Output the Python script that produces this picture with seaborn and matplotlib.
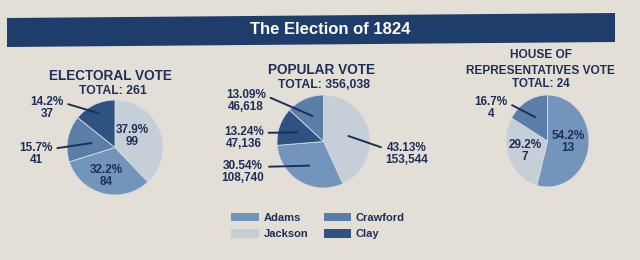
import numpy as np
import pandas as pd
import matplotlib
matplotlib.use('Agg')
import matplotlib.pyplot as plt
from matplotlib.patches import Polygon, Patch
import seaborn as sns

# vote data
candidates = ['Adams', 'Jackson', 'Crawford', 'Clay']
electoral_names = ['Jackson', 'Adams', 'Crawford', 'Clay']
electoral_votes = [99, 84, 41, 37]
popular_names = ['Jackson', 'Adams', 'Clay', 'Crawford']
popular_votes = [153544, 108740, 47136, 46618]
house_names = ['Adams', 'Jackson', 'Crawford']
house_votes = [13, 7, 4]

sns.set_theme(style='white')
plt.rcParams['font.family'] = ['Liberation Sans', 'DejaVu Sans']

#colours for each candidate
colours_dict = {'Adams': '#7495bb', 'Jackson': '#c6ced8',
                'Crawford': '#5a7ea8', 'Clay': '#2e5383'}
navy = '#1e2f57'
paper = '#e3dfd7'

fig = plt.figure(figsize=(6.4, 2.6), dpi=100)
fig.patch.set_facecolor(paper)

#background axes in pixel coordinates for text and banner
bg = fig.add_axes([0, 0, 1, 1])
bg.set_xlim(0, 640)
bg.set_ylim(260, 0)
bg.axis('off')
bg.add_patch(Polygon([(7, 18), (615, 13), (615, 42), (7, 47)], closed=True,
                     facecolor='#1f3d6b', edgecolor='none'))
bg.text(330, 29, 'The Election of 1824', color='white', fontsize=12,
        fontweight='bold', ha='center', va='center')


def pie_block(names, votes, decimals, box, titles, labels):
    x0, x1, y0, y1 = box
    ax = fig.add_axes([x0 / 640, 1 - y1 / 260, (x1 - x0) / 640, (y1 - y0) / 260])
    df = pd.DataFrame({'name': names, 'votes': votes})
    df['pct'] = df['votes'] / df['votes'].sum() * 100
    wedges, _ = ax.pie(df['votes'], colors=[colours_dict[n] for n in df['name']],
                       startangle=90, counterclock=False,
                       wedgeprops=dict(edgecolor='#d8dce2', linewidth=0.6))
    ax.set_aspect('auto')
    ax.set_xlim(-1, 1)
    ax.set_ylim(-1, 1)
    ax.axis('off')
    cx = (x0 + x1) / 2
    for ty, txt, fs in titles:
        bg.text(cx + txt[1], ty, txt[0], color=navy, fontsize=fs,
                fontweight='bold', ha='center', va='center')
    for (i, row), (tx, ty, side, r) in zip(df.iterrows(), labels):
        lab = f"{row['pct']:.{decimals}f}%\n{row['votes']:,}"
        w = wedges[i]
        ang = np.deg2rad((w.theta1 + w.theta2) / 2)
        if side == 'in':
            ax.text(tx, ty, lab, transform=bg.transData, color=navy,
                    fontsize=8.5, fontweight='bold', ha='center', va='center',
                    linespacing=0.95)
        else:
            rel = (1, 0.72) if side == 'L' else (0, 0.72)
            ax.annotate(lab, xy=(r * np.cos(ang), r * np.sin(ang)),
                        xytext=(tx, ty), textcoords=bg.transData,
                        color=navy, fontsize=8.5, fontweight='bold',
                        ha='center', va='center', linespacing=0.95,
                        arrowprops=dict(arrowstyle='-', color=navy, lw=1.4,
                                        shrinkA=1, shrinkB=0, relpos=rel))


pie_block(electoral_names, electoral_votes, 1, (67, 163, 100, 195),
          [(76, ('ELECTORAL VOTE', -5), 9.8), (91, ('TOTAL: 261', -2), 8.8)],
          [(132, 136, 'in', 0), (106, 176, 'in', 0),
           (36, 154, 'L', 0.5), (47, 108, 'L', 0.8)])

pie_block(popular_names, popular_votes, 2, (277, 370, 95, 188),
          [(70, ('POPULAR VOTE', -2), 9.8), (85, ('TOTAL: 356,038', 0), 8.8)],
          [(407, 154, 'R', 0.55), (243, 172, 'L', 0.6),
           (244, 138, 'L', 0.6), (246, 101, 'L', 0.6)])

pie_block(house_names, house_votes, 1, (506, 589, 95, 187),
          [(55, ('HOUSE OF', -7), 8.6), (71, ('REPRESENTATIVES VOTE', -7), 8.6),
           (84, ('TOTAL: 24', -7), 8.4)],
          [(568, 142, 'in', 0), (525, 151, 'in', 0), (491, 108, 'L', 0.6)])

#legend
handles = [Patch(facecolor=colours_dict[c], edgecolor='none') for c in candidates]
bg.legend(handles, candidates, ncol=2, loc='center', frameon=False,
          bbox_to_anchor=(318, 226), bbox_transform=bg.transData,
          handlelength=2.5, handleheight=0.8, columnspacing=1.4,
          labelspacing=0.55, handletextpad=0.4,
          prop=dict(weight='bold', size=8), labelcolor=navy)

fig.savefig('out.png', dpi=100, facecolor=paper)
